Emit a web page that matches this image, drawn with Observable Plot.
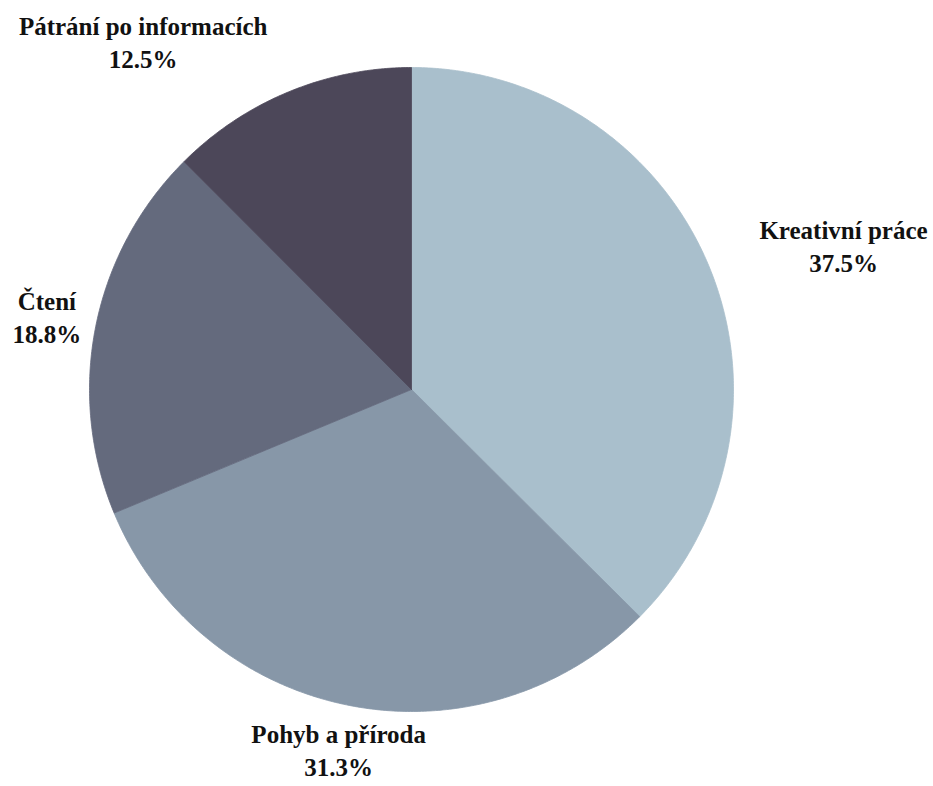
<!DOCTYPE html>
<html><head><meta charset="utf-8">
<script src="https://cdn.jsdelivr.net/npm/d3@7"></script>
<script src="https://cdn.jsdelivr.net/npm/@observablehq/plot@0.6"></script>
<style>
body{margin:0;background:#fff}
#chart svg text{font-family:"Liberation Serif","Times New Roman","DejaVu Serif",serif !important;}
</style>
</head><body><div id="chart"></div>
<script>
const categories = ["Kreativní práce", "Pohyb a příroda", "Čtení", "Pátrání po informacích"];
const values = [37.5, 31.3, 18.8, 12.5];
const colors = ["#a9bfcc", "#8797a8", "#646a7d", "#4c4759"];

const W = 933, H = 786, CX = 411, CY = 389, R = 322;
const FONT = "'Liberation Serif', 'Times New Roman', 'DejaVu Serif', serif";
const arcs = d3.pie().sort(null).value(d => d)(values);

const pts = [];
arcs.forEach((s, i) => {
  const name = categories[i];
  pts.push({name, x: 0, y: 0});
  const n = Math.max(2, Math.ceil((s.endAngle - s.startAngle) / (Math.PI / 360)));
  for (let k = 0; k <= n; k++) {
    const a = s.startAngle + (s.endAngle - s.startAngle) * k / n;
    pts.push({name, x: Math.sin(a), y: Math.cos(a)});
  }
  pts.push({name, x: 0, y: 0});
});

const fontSize = 25, lineHeight = 1.32;
const ctx = document.createElement("canvas").getContext("2d");
ctx.font = `bold ${fontSize}px ${FONT}`;
const labels = arcs.map((s, i) => {
  const mid = (s.startAngle + s.endAngle) / 2;
  const ax = CX + 1.17 * R * Math.sin(mid), ay = CY - 1.17 * R * Math.cos(mid);
  const lines = [categories[i], values[i].toFixed(1) + "%"];
  const w = Math.max(...lines.map(t => ctx.measureText(t).width));
  const sn = Math.sin(mid);
  let left = sn > 0.3 ? ax : sn < -0.3 ? ax - w : ax - w / 2;
  left = Math.max(12, Math.min(W - 3 - w, left));
  const cx = left + w / 2;
  const cy = Math.min(ay, H - 38);
  return {text: lines.join("\n"), x: (cx - CX) / R, y: (CY - cy) / R};
});

const chart = Plot.plot({
  width: W, height: H, margin: 0,
  x: {domain: [-1, 1], range: [CX - R, CX + R], axis: null},
  y: {domain: [-1, 1], range: [CY + R, CY - R], axis: null},
  color: {domain: categories, range: colors},
  marks: [
    Plot.line(pts, {x: "x", y: "y", z: "name", fill: "name", stroke: "name", strokeWidth: 0.8, curve: "linear"}),
    Plot.text(labels, {x: "x", y: "y", text: "text", fontSize, fontWeight: "bold",
      fontFamily: FONT, lineHeight, textAnchor: "middle", lineAnchor: "middle", fill: "#111"})
  ]
});
document.getElementById("chart").append(chart);
</script>
</body></html>
